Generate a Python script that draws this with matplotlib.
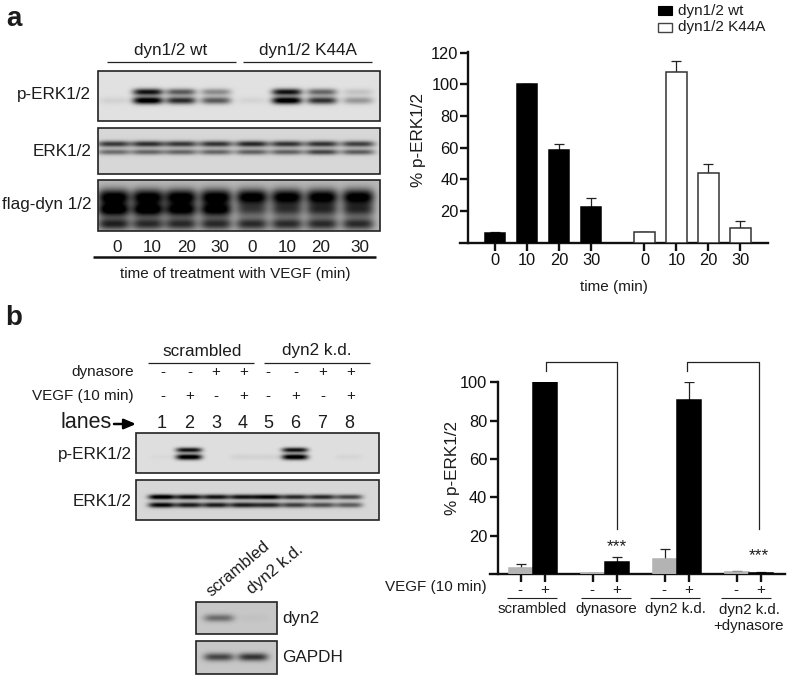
import numpy as np
import matplotlib
matplotlib.use("Agg")
import matplotlib.pyplot as plt
from matplotlib.patches import Rectangle

plt.rcParams["font.family"] = ["Liberation Sans", "DejaVu Sans"]

W, H = 787, 677
INK = "#1c1c1c"

# ── bar data ─────────────────────────────────────────────────────────────────
a_x_wt = [0, 1, 2, 3]
a_x_k44a = [4.67, 5.67, 6.67, 7.67]
a_time_labels = ["0", "10", "20", "30", "0", "10", "20", "30"]
a_wt = [6, 100, 58.5, 22.5]
a_wt_top = [6.8, 100, 62.5, 28]
a_k44a = [7, 108, 44, 9]
a_k44a_top = [7, 115, 49.5, 13.5]

b_x_minus = [0, 3, 6, 9]
b_x_plus = [1, 4, 7, 10]
b_minus = [3, 0.3, 8, 1]
b_minus_top = [5, 0.5, 13, 1.5]
b_plus = [100, 6.5, 91, 0.5]
b_plus_top = [100, 8.7, 100, 1.2]
b_groups = ["scrambled", "dynasore", "dyn2 k.d.", "dyn2 k.d.\n+dynasore"]

# ── blot data: band darkness per lane (0 = background, 1 = black) ────────────
a_lanes = [114, 148, 181, 216, 252, 287, 322, 358]
a_perk_upper = [0.0, 0.85, 0.55, 0.35, 0.0, 0.85, 0.5, 0.12]
a_perk_lower = [0.06, 1.0, 0.75, 0.55, 0.05, 1.0, 0.72, 0.3]
a_erk_upper = [0.68, 0.72, 0.68, 0.7, 0.75, 0.7, 0.7, 0.65]
a_erk_lower = [0.45, 0.48, 0.48, 0.48, 0.5, 0.5, 0.62, 0.52]
a_flag_upper = [1.0, 1.0, 1.0, 1.0, 1.0, 1.0, 1.0, 1.0]
a_flag_lower = [1.0, 1.0, 0.95, 0.95, 0.55, 0.6, 0.65, 0.65]
a_flag_tail = [0.75, 0.7, 0.7, 0.7, 0.7, 0.7, 0.7, 0.7]

b_lanes = [162, 189, 216, 243, 268, 295, 322, 349]
b_perk_upper = [0.0, 0.85, 0.0, 0.0, 0.0, 0.85, 0.0, 0.0]
b_perk_lower = [0.02, 1.0, 0.0, 0.05, 0.05, 1.0, 0.0, 0.04]
b_erk_upper = [1.0, 0.88, 0.85, 0.85, 0.92, 0.75, 0.75, 0.62]
b_erk_lower = [0.9, 0.8, 0.8, 0.8, 0.75, 0.65, 0.58, 0.52]

c_lanes = [219, 253]
c_dyn2 = [0.42, 0.03]
c_gapdh = [0.6, 0.68]


def px_axes(fig, left, top, right, bottom):
    return fig.add_axes([left / W, 1 - bottom / H,
                         (right - left) / W, (bottom - top) / H])


def blot(ax, box, lanes, rows, half=14, bg=0.88):
    """rows: [(band y, sigma, darkness per lane), ...]"""
    x0, y0, x1, y1 = box
    xx, yy = np.meshgrid(np.arange(x0, x1) + 0.5, np.arange(y0, y1) + 0.5)
    dark = np.zeros_like(xx)
    for band_y, sigma, levels in rows:
        for cx, level in zip(lanes, levels):
            dark += level * 1.1 * np.exp(-((xx - cx) / half) ** 4) \
                * np.exp(-((yy - band_y) / sigma) ** 2)
    img = np.clip(bg * (1 - np.clip(dark, 0, 1)), 0, 1)
    ax.imshow(img, cmap="gray", vmin=0, vmax=1, extent=(x0, x1, y1, y0),
              aspect="auto", interpolation="bilinear", zorder=1)
    ax.add_patch(Rectangle((x0, y0), x1 - x0, y1 - y0, fill=False,
                           ec="#222222", lw=1.2, zorder=2))


def style_chart(ax, ticks, pad):
    for side in ("top", "right"):
        ax.spines[side].set_visible(False)
    for side in ("left", "bottom"):
        ax.spines[side].set_linewidth(1.7)
        ax.spines[side].set_color("#111111")
    ax.patch.set_alpha(0)
    ax.set_yticks(ticks)
    ax.tick_params(axis="both", length=5.8, width=1.7, labelsize=11.8,
                   colors="#111111")
    ax.tick_params(axis="y", pad=pad)
    ax.tick_params(axis="x", pad=1.5)


def bars(ax, xs, vals, tops, width, fc, ec, ec_err="#222222"):
    ax.bar(xs, vals, width=width, color=fc, edgecolor=ec, linewidth=1.1, zorder=3)
    errs = [t - v for t, v in zip(tops, vals)]
    ax.errorbar(xs, vals, yerr=[[0] * len(errs), errs], fmt="none",
                ecolor=ec_err, elinewidth=0.9, capsize=3.3, capthick=0.9, zorder=2)


fig = plt.figure(figsize=(W / 100, H / 100), dpi=100)

# overlay in picture pixels for blots, labels and rules
ov = fig.add_axes([0, 0, 1, 1])
ov.axis("off")


def txt(x, y, s, size=12.3, ha="center", va="center", **kw):
    ov.text(x, y, s, fontsize=size, ha=ha, va=va, color=INK, **kw)


def rule(x0, x1, y, lw=0.9, color="#222222"):
    ov.plot([x0, x1], [y, y], color=color, lw=lw, solid_capstyle="butt")


# ── panel a: blots ───────────────────────────────────────────────────────────
blot(ov, (98, 71, 380, 121), a_lanes,
     [(92, 3.4, a_perk_upper), (100.5, 3.7, a_perk_lower)], half=15, bg=0.88)
blot(ov, (98, 128, 380, 174), a_lanes,
     [(144, 3.1, a_erk_upper), (152, 2.9, a_erk_lower)], half=16.5, bg=0.84)
blot(ov, (98, 180, 380, 231), a_lanes,
     [(197, 8, a_flag_upper), (210, 7, a_flag_lower), (224, 6, a_flag_tail)],
     half=16, bg=0.72)

txt(6, 19, "a", size=20, ha="left", fontweight="bold")
txt(91, 95, "p-ERK1/2", ha="right")
txt(91, 152, "ERK1/2", ha="right")
txt(92, 204, "flag-dyn 1/2", ha="right")
txt(171, 51, "dyn1/2 wt")
txt(308, 51, "dyn1/2 K44A")
rule(107, 236, 62)
rule(243, 372, 62)
for x, s in zip([117, 152, 187, 220, 252, 287, 321, 360], a_time_labels):
    txt(x, 247, s)
rule(93, 376, 257, lw=1.8, color="#111111")
txt(235, 274, "time of treatment with VEGF (min)", size=11)

# ── panel a: legend ──────────────────────────────────────────────────────────
ov.add_patch(Rectangle((658, 6), 14, 9, fc="black", ec="black", lw=0.8))
ov.add_patch(Rectangle((658, 23), 14, 9, fc="white", ec="#444444", lw=1.0))
txt(678, 10.5, "dyn1/2 wt", size=11, ha="left")
txt(678, 27.5, "dyn1/2 K44A", size=11, ha="left")

# ── panel b: blots ───────────────────────────────────────────────────────────
blot(ov, (136, 433, 379, 473), b_lanes,
     [(450, 2.5, b_perk_upper), (457, 2.9, b_perk_lower)], half=13, bg=0.87)
blot(ov, (136, 480, 379, 520), b_lanes,
     [(497, 2.6, b_erk_upper), (505, 2.8, b_erk_lower)], half=13.5, bg=0.84)
blot(ov, (196, 602, 277, 634), c_lanes, [(618, 3.8, c_dyn2)], half=15, bg=0.78)
blot(ov, (196, 641, 277, 674), c_lanes, [(657, 4.0, c_gapdh)], half=15, bg=0.78)

txt(5, 318, "b", size=20, ha="left", fontweight="bold")
txt(202, 351, "scrambled")
txt(317, 351, "dyn2 k.d.")
rule(148, 254, 363)
rule(264, 370, 363)
txt(134, 372, "dynasore", size=11, ha="right")
txt(134, 396, "VEGF (10 min)", size=11, ha="right")
for x, d, v in zip([163, 190, 216, 244, 268, 296, 323, 351],
                   list("--++--++"), list("-+-+-+-+")):
    txt(x, 372, d, size=11)
    txt(x, 396, v, size=11)
txt(60, 423, "lanes", size=15.5, ha="left")
ov.annotate("", xy=(136, 424), xytext=(114, 424),
            arrowprops=dict(arrowstyle="-|>,head_width=0.3,head_length=0.7",
                            color="black", lw=1.8, shrinkA=0, shrinkB=0))
for i, x in enumerate(b_lanes):
    txt(x, 424, str(i + 1), size=13)
txt(132, 455, "p-ERK1/2", ha="right")
txt(132, 501, "ERK1/2", ha="right")
txt(214, 599, "scrambled", size=12, ha="left", va="bottom", rotation=40, rotation_mode="anchor")
txt(254, 597, "dyn2 k.d.", size=12, ha="left", va="bottom", rotation=40, rotation_mode="anchor")
txt(282, 618, "dyn2", ha="left")
txt(282, 657, "GAPDH", ha="left")

# ── panel b: chart annotations ───────────────────────────────────────────────
for x0, x1 in [(546, 617), (687, 759)]:
    ov.plot([x0, x0, x1, x1], [371, 362, 362, 529], color="#222222", lw=0.9)
txt(617, 547, "***", size=12.5)
txt(759, 556, "***", size=12.5)
txt(487, 587, "VEGF (10 min)", size=11, ha="right")
for x in b_x_minus:
    txt(521 + 24 * x - 1, 590, "-", size=11)
for x in b_x_plus:
    txt(521 + 24 * x, 590, "+", size=11)
for (x0, x1), cx, s in zip([(507, 557), (581, 631), (650, 700), (721, 771)],
                           [532, 606, 675, 749], b_groups):
    rule(x0, x1, 598, lw=0.8)
    txt(cx, 609 if "\n" not in s else 618, s, size=10.8, linespacing=1.15)

ov.set_xlim(0, W)
ov.set_ylim(H, 0)

# ── panel a: chart ───────────────────────────────────────────────────────────
ax_a = px_axes(fig, 460, 52, 768, 242.6)
ax_a.set_xlim((460 - 495) / 32, (768 - 495) / 32)
ax_a.set_ylim(0, 120.5)
bars(ax_a, a_x_wt, a_wt, a_wt_top, 0.64, "black", "black")
bars(ax_a, a_x_k44a, a_k44a, a_k44a_top, 0.64, "white", "#333333")
style_chart(ax_a, [20, 40, 60, 80, 100, 120], 1.0)
ax_a.spines["left"].set_position(("outward", -5.8))
ax_a.set_xticks(a_x_wt + a_x_k44a, a_time_labels)
ax_a.set_ylabel("% p-ERK1/2", fontsize=12.3, color=INK)
ax_a.yaxis.set_label_coords(-0.110, 0.538)
ax_a.set_xlabel("time (min)", fontsize=11, color=INK, labelpad=8.5)

# ── panel b: chart ───────────────────────────────────────────────────────────
ax_b = px_axes(fig, 490, 382.3, 785, 574)
ax_b.set_xlim((490 - 521) / 24, (785 - 521) / 24)
ax_b.set_ylim(0, 100)
bars(ax_b, b_x_minus, b_minus, b_minus_top, 1.0, "#b3b3b3", "#b3b3b3")
bars(ax_b, b_x_plus, b_plus, b_plus_top, 1.0, "black", "black")
style_chart(ax_b, [20, 40, 60, 80, 100], 2.0)
ax_b.spines["left"].set_position(("outward", -5.8))
ax_b.set_xticks(sorted(b_x_minus + b_x_plus), [""] * 8)
ax_b.set_ylabel("% p-ERK1/2", fontsize=12.3, color=INK)
ax_b.yaxis.set_label_coords(-0.102, 0.553)

fig.savefig("out.png", dpi=100)
